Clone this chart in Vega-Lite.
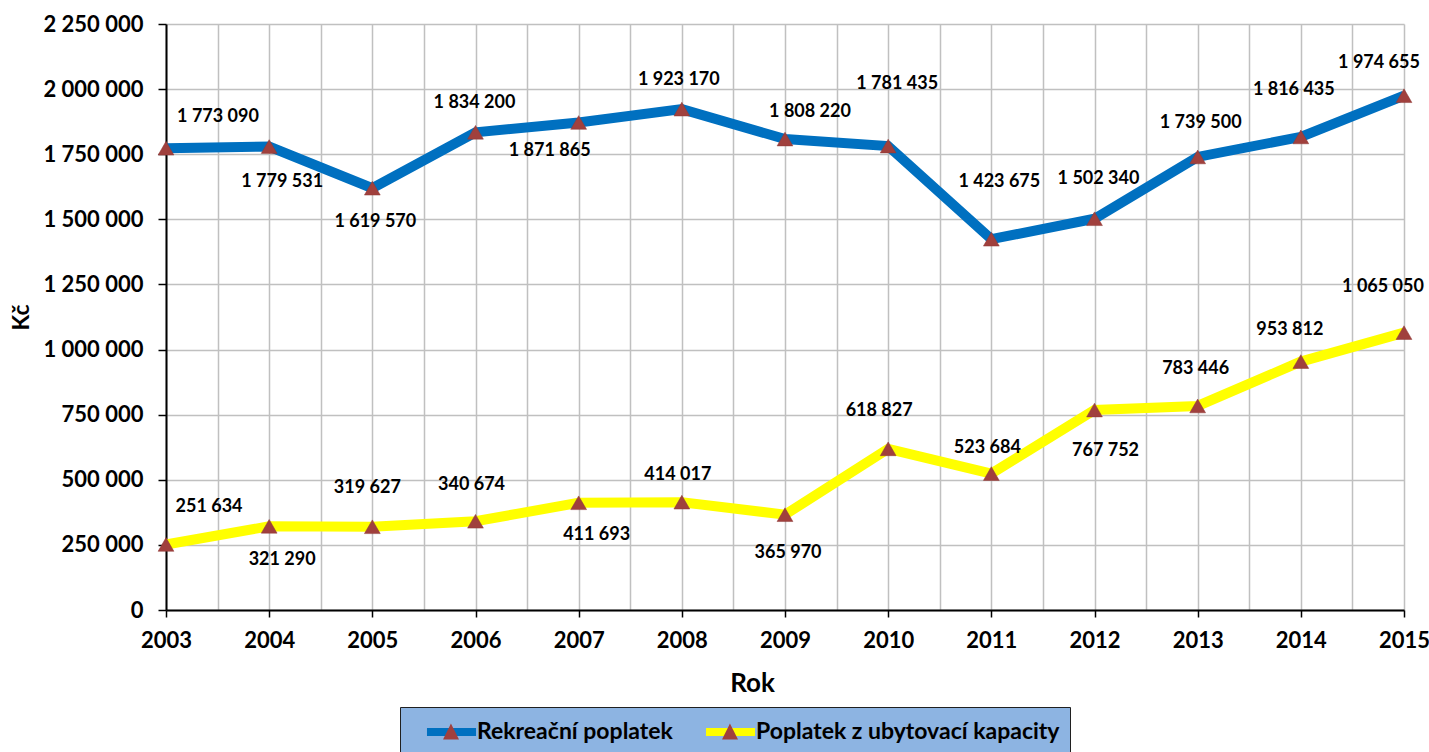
{
  "$schema": "https://vega.github.io/schema/vega-lite/v6.json",
  "width": 1238,
  "height": 586,
  "autosize": {"type": "none"},
  "padding": {"left": 166, "top": 24, "right": 25, "bottom": 142},
  "background": "white",
  "config": {
    "view": {"stroke": null},
    "font": "Lato",
    "locale": {"number": {"decimal": ",", "thousands": " ", "grouping": [3], "currency": ["", " Kč"]}}
  },
  "data": {
    "values": [
      {"year": 2003, "series": "Rekreační poplatek", "value": 1773090},
      {"year": 2004, "series": "Rekreační poplatek", "value": 1779531},
      {"year": 2005, "series": "Rekreační poplatek", "value": 1619570},
      {"year": 2006, "series": "Rekreační poplatek", "value": 1834200},
      {"year": 2007, "series": "Rekreační poplatek", "value": 1871865},
      {"year": 2008, "series": "Rekreační poplatek", "value": 1923170},
      {"year": 2009, "series": "Rekreační poplatek", "value": 1808220},
      {"year": 2010, "series": "Rekreační poplatek", "value": 1781435},
      {"year": 2011, "series": "Rekreační poplatek", "value": 1423675},
      {"year": 2012, "series": "Rekreační poplatek", "value": 1502340},
      {"year": 2013, "series": "Rekreační poplatek", "value": 1739500},
      {"year": 2014, "series": "Rekreační poplatek", "value": 1816435},
      {"year": 2015, "series": "Rekreační poplatek", "value": 1974655},
      {"year": 2003, "series": "Poplatek z ubytovací kapacity", "value": 251634},
      {"year": 2004, "series": "Poplatek z ubytovací kapacity", "value": 321290},
      {"year": 2005, "series": "Poplatek z ubytovací kapacity", "value": 319627},
      {"year": 2006, "series": "Poplatek z ubytovací kapacity", "value": 340674},
      {"year": 2007, "series": "Poplatek z ubytovací kapacity", "value": 411693},
      {"year": 2008, "series": "Poplatek z ubytovací kapacity", "value": 414017},
      {"year": 2009, "series": "Poplatek z ubytovací kapacity", "value": 365970},
      {"year": 2010, "series": "Poplatek z ubytovací kapacity", "value": 618827},
      {"year": 2011, "series": "Poplatek z ubytovací kapacity", "value": 523684},
      {"year": 2012, "series": "Poplatek z ubytovací kapacity", "value": 767752},
      {"year": 2013, "series": "Poplatek z ubytovací kapacity", "value": 783446},
      {"year": 2014, "series": "Poplatek z ubytovací kapacity", "value": 953812},
      {"year": 2015, "series": "Poplatek z ubytovací kapacity", "value": 1065050}
    ]
  },
  "encoding": {
    "x": {
      "field": "year",
      "type": "quantitative",
      "scale": {"domain": [2003, 2015], "nice": false, "zero": false},
      "axis": {
        "title": "Rok",
        "values": [2003, 2003.5, 2004, 2004.5, 2005, 2005.5, 2006, 2006.5, 2007, 2007.5, 2008, 2008.5, 2009, 2009.5, 2010, 2010.5, 2011, 2011.5, 2012, 2012.5, 2013, 2013.5, 2014, 2014.5, 2015],
        "labelExpr": "datum.value % 1 == 0 ? format(datum.value, 'd') : ''",
        "labelOverlap": false,
        "labelFlush": false,
        "tickOpacity": {"condition": {"test": "datum.value % 1 != 0", "value": 0}, "value": 1},
        "grid": true,
        "gridColor": "#C0C0C0",
        "gridWidth": 1.5,
        "domainColor": "black",
        "domainWidth": 2,
        "tickColor": "black",
        "tickSize": 7,
        "tickWidth": 1.5,
        "labelFont": "Lato",
        "labelFontSize": 22,
        "labelFontWeight": "bold",
        "labelColor": "black",
        "labelPadding": 13,
        "titleFont": "Lato",
        "titleFontSize": 26,
        "titleFontWeight": "bold",
        "titleColor": "black",
        "titleX": 586,
        "titleY": 73,
        "titleAlign": "center",
        "titleBaseline": "middle"
      }
    },
    "y": {
      "field": "value",
      "type": "quantitative",
      "scale": {"domain": [0, 2250000], "nice": false},
      "axis": {
        "title": "Kč",
        "values": [0, 250000, 500000, 750000, 1000000, 1250000, 1500000, 1750000, 2000000, 2250000],
        "format": ",d",
        "grid": true,
        "gridColor": "#C0C0C0",
        "gridWidth": 1.5,
        "domainColor": "black",
        "domainWidth": 2,
        "tickColor": "black",
        "tickSize": 8,
        "tickWidth": 1.5,
        "labelFont": "Lato",
        "labelFontSize": 22,
        "labelFontWeight": "bold",
        "labelColor": "black",
        "labelPadding": 15,
        "titleFont": "Lato",
        "titleFontSize": 23,
        "titleFontWeight": "bold",
        "titleColor": "black",
        "titlePadding": 9
      }
    }
  },
  "layer": [
    {
      "mark": {"type": "line", "strokeWidth": 10},
      "encoding": {
        "color": {
          "field": "series",
          "type": "nominal",
          "scale": {"domain": ["Rekreační poplatek", "Poplatek z ubytovací kapacity"], "range": ["#0070C0", "#FFFF00"]},
          "legend": {
            "title": null,
            "orient": "none",
            "legendX": 234,
            "legendY": 683,
            "direction": "horizontal",
            "symbolType": "M0.18,0H4.64",
            "symbolSize": 484,
            "symbolStrokeWidth": 8,
            "symbolFillColor": "transparent",
            "labelFont": "Lato",
            "labelFontSize": 23,
            "labelFontWeight": "bold",
            "labelColor": "black",
            "labelOffset": 37,
            "labelLimit": 600,
            "columnPadding": 16,
            "padding": 10,
            "fillColor": "#8DB4E2",
            "strokeColor": "#202020"
          }
        }
      }
    },
    {
      "mark": {"type": "point", "shape": "triangle-up", "filled": true, "size": 250, "opacity": 1, "stroke": "#8E3936", "strokeWidth": 0.5},
      "encoding": {
        "fill": {
          "field": "series",
          "type": "nominal",
          "sort": "descending",
          "scale": {"range": ["#A0403D", "#A0403D"]},
          "legend": {
            "title": null,
            "orient": "none",
            "legendX": 234,
            "legendY": 683,
            "direction": "horizontal",
            "symbolType": "M2.36,-0.82L3.09,0.64L1.64,0.64Z",
            "symbolSize": 484,
            "symbolStrokeWidth": 8,
            "symbolStrokeColor": "transparent",
            "labelFont": "Lato",
            "labelFontSize": 23,
            "labelFontWeight": "bold",
            "labelColor": "transparent",
            "labelOffset": 37,
            "labelLimit": 600,
            "columnPadding": 16,
            "padding": 10
          }
        }
      }
    },
    {
      "mark": {
        "type": "text",
        "font": "Lato",
        "fontSize": 18,
        "fontWeight": "bold",
        "color": "black",
        "align": "center",
        "baseline": "middle",
        "dx": {"expr": "datum.series == 'Rekreační poplatek' ? [52,13,3,-1,-29,-3,25,9,8,4,3,-7,-25][datum.year-2003] : [43,13,-5,-4,18,-4,3,-9,-4,11,-2,-11,-21][datum.year-2003]"},
        "dy": {"expr": "datum.series == 'Rekreační poplatek' ? [-31,35,34,-29,29,-29,-27,-62,-57,-40,-34,-47,-33][datum.year-2003] : [-37,34,-39,-36,32,-27,38,-38,-26,41,-37,-32,-46][datum.year-2003]"}
      },
      "encoding": {
        "text": {"field": "value", "type": "quantitative", "format": ",d"}
      }
    }
  ]
}
